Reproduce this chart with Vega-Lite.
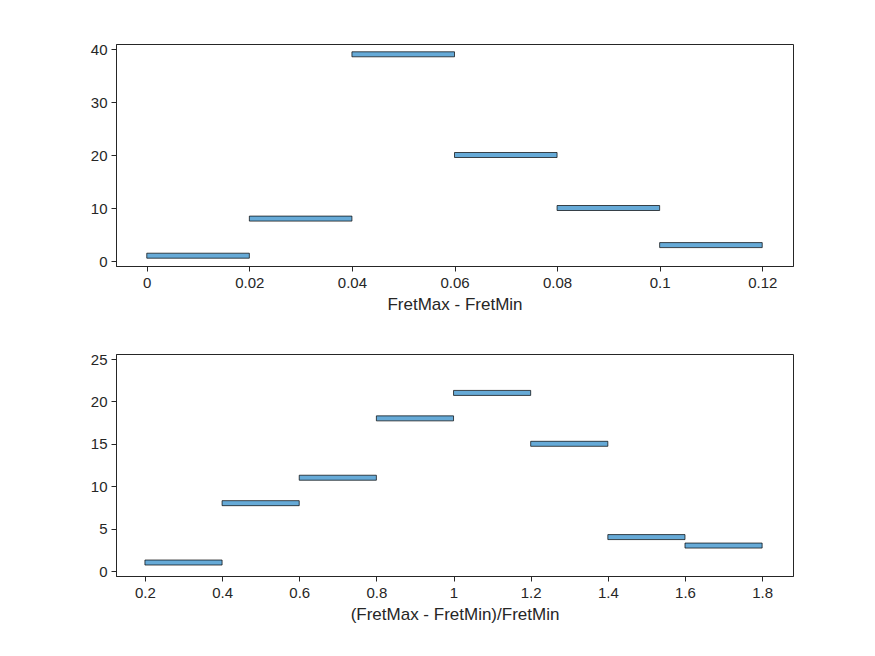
{
  "$schema": "https://vega.github.io/schema/vega-lite/v6.json",
  "autosize": {"type": "pad"},
  "padding": {"left": 89, "top": 41, "right": 5, "bottom": 5},
  "background": "white",
  "bounds": "flush",
  "spacing": 88,
  "config": {
    "font": "Liberation Sans",
    "view": {"stroke": "#262626", "strokeWidth": 1},
    "axis": {"grid": false, "domainColor": "#262626", "tickColor": "#262626", "labelColor": "#262626", "titleColor": "#262626", "labelFontSize": 15, "titleFontSize": 17, "titleFontWeight": "normal", "tickSize": 5, "labelPadding": 4},
    "bar": {"color": "#66AAD7", "stroke": "#000000", "strokeWidth": 0.7}
  },
  "datasets": {
    "a": [
      {"lo": 0, "hi": 0.02, "n": 1},
      {"lo": 0.02, "hi": 0.04, "n": 8},
      {"lo": 0.04, "hi": 0.06, "n": 39},
      {"lo": 0.06, "hi": 0.08, "n": 20},
      {"lo": 0.08, "hi": 0.1, "n": 10},
      {"lo": 0.1, "hi": 0.12, "n": 3}
    ],
    "b": [
      {"lo": 0.2, "hi": 0.4, "n": 1},
      {"lo": 0.4, "hi": 0.6, "n": 8},
      {"lo": 0.6, "hi": 0.8, "n": 11},
      {"lo": 0.8, "hi": 1.0, "n": 18},
      {"lo": 1.0, "hi": 1.2, "n": 21},
      {"lo": 1.2, "hi": 1.4, "n": 15},
      {"lo": 1.4, "hi": 1.6, "n": 4},
      {"lo": 1.6, "hi": 1.8, "n": 3}
    ]
  },
  "vconcat": [
    {
      "width": 677,
      "height": 222,
      "data": {"name": "a"},
      "mark": "bar",
      "encoding": {
        "x": {"field": "lo", "type": "quantitative", "title": "FretMax - FretMin",
          "scale": {"domain": [-0.006, 0.126], "nice": false, "zero": false},
          "axis": {"values": [0, 0.02, 0.04, 0.06, 0.08, 0.1, 0.12], "labelExpr": "'' + datum.value", "titlePadding": 6}},
        "x2": {"field": "hi"},
        "y": {"field": "n", "type": "quantitative", "title": null,
          "scale": {"domain": [0, 40], "nice": false},
          "axis": {"values": [0, 10, 20, 30, 40]}}
      }
    },
    {
      "width": 677,
      "height": 222,
      "data": {"name": "b"},
      "mark": "bar",
      "encoding": {
        "x": {"field": "lo", "type": "quantitative", "title": "(FretMax - FretMin)/FretMin",
          "scale": {"domain": [0.125, 1.88], "nice": false, "zero": false},
          "axis": {"values": [0.2, 0.4, 0.6, 0.8, 1, 1.2, 1.4, 1.6, 1.8], "labelExpr": "'' + datum.value", "titlePadding": 6}},
        "x2": {"field": "hi"},
        "y": {"field": "n", "type": "quantitative", "title": null,
          "scale": {"domain": [0, 25], "nice": false},
          "axis": {"values": [0, 5, 10, 15, 20, 25]}}
      }
    }
  ]
}
